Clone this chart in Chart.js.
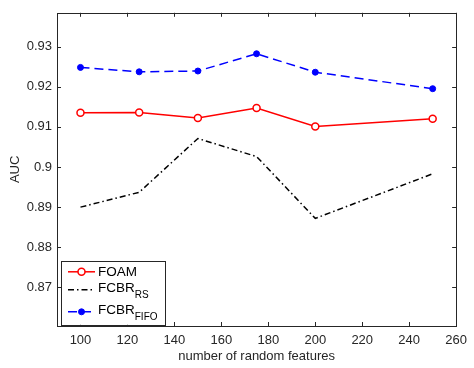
<!DOCTYPE html>
<html>
<head>
<meta charset="utf-8">
<script src="https://cdn.jsdelivr.net/npm/chart.js@4"></script>
<style>
  html, body { margin: 0; padding: 0; background: #fff; }
  #wrap { width: 474px; height: 368px; }
</style>
</head>
<body>
<div id="wrap"><canvas id="aucChart" width="474" height="368"></canvas></div>
<script>
const features = [100, 125, 150, 175, 200, 250];
const foam = [0.9135, 0.9136, 0.9122, 0.9147, 0.9101, 0.9120];
const fcbrRS = [0.8900, 0.8937, 0.9071, 0.9026, 0.8872, 0.8983];
const fcbrFIFO = [0.9248, 0.9237, 0.9239, 0.9282, 0.9236, 0.9195];
const xTicks = [100, 120, 140, 160, 180, 200, 220, 240, 260];
const yTicks = [0.87, 0.88, 0.89, 0.9, 0.91, 0.92, 0.93];

const axisColor = "#262626";
const fontFamily = "'Liberation Sans', Arial, sans-serif";

function points(ys) {
  return features.map((x, i) => ({ x: x, y: ys[i] }));
}

// MATLAB-style box with inward ticks on all four sides
const boxPlugin = {
  id: "box",
  afterDatasetsDraw(chart) {
    const { ctx, chartArea: a, scales } = chart;
    ctx.save();
    ctx.strokeStyle = axisColor;
    ctx.lineWidth = 1;
    ctx.beginPath();
    xTicks.forEach(v => {
      const px = Math.round(scales.x.getPixelForValue(v)) + 0.5;
      ctx.moveTo(px, a.bottom); ctx.lineTo(px, a.bottom - 4);
      ctx.moveTo(px, a.top); ctx.lineTo(px, a.top + 4);
    });
    yTicks.forEach(v => {
      const py = Math.round(scales.y.getPixelForValue(v)) + 0.5;
      ctx.moveTo(a.left, py); ctx.lineTo(a.left + 4, py);
      ctx.moveTo(a.right, py); ctx.lineTo(a.right - 4, py);
    });
    ctx.stroke();
    ctx.strokeRect(Math.round(a.left) + 0.5, Math.round(a.top) + 0.5,
      Math.round(a.right - a.left), Math.round(a.bottom - a.top));
    ctx.restore();
  }
};

// legend with subscripts
const legendPlugin = {
  id: "subLegend",
  afterDraw(chart) {
    const { ctx, chartArea: a } = chart;
    const bx = a.left + 4, by = a.top + 248, bw = 104, bh = 64;
    ctx.save();
    ctx.fillStyle = "#fff";
    ctx.fillRect(bx, by, bw, bh);
    ctx.strokeStyle = axisColor;
    ctx.lineWidth = 1;
    ctx.strokeRect(Math.round(bx) + 0.5, Math.round(by) + 0.5, bw, bh);
    const rows = [
      { ds: chart.data.datasets[0], main: "FOAM", sub: "", y: by + 11 },
      { ds: chart.data.datasets[1], main: "FCBR", sub: "RS", y: by + 29 },
      { ds: chart.data.datasets[2], main: "FCBR", sub: "FIFO", y: by + 51 }
    ];
    rows.forEach(r => {
      const x0 = bx + 7, x1 = bx + 34, xm = (x0 + x1) / 2;
      ctx.strokeStyle = r.ds.borderColor;
      ctx.lineWidth = r.ds.borderWidth;
      ctx.setLineDash(r.ds.borderDash || []);
      ctx.beginPath();
      ctx.moveTo(x0, r.y); ctx.lineTo(x1, r.y);
      ctx.stroke();
      ctx.setLineDash([]);
      if (r.ds.pointRadius > 0) {
        ctx.beginPath();
        ctx.arc(xm, r.y, r.ds.pointRadius, 0, Math.PI * 2);
        ctx.fillStyle = r.ds.pointBackgroundColor;
        ctx.fill();
        ctx.lineWidth = r.ds.pointBorderWidth;
        ctx.strokeStyle = r.ds.pointBorderColor;
        ctx.stroke();
      }
      ctx.fillStyle = "#000";
      ctx.textBaseline = "middle";
      ctx.textAlign = "left";
      ctx.font = "13.5px " + fontFamily;
      ctx.fillText(r.main, bx + 37, r.y - (r.sub ? 2 : 0));
      if (r.sub) {
        const w = ctx.measureText(r.main).width;
        ctx.font = "10px " + fontFamily;
        ctx.fillText(r.sub, bx + 37 + w, r.y + 5);
      }
    });
    ctx.restore();
  }
};

new Chart(document.getElementById("aucChart"), {
  type: "line",
  data: {
    datasets: [
      {
        label: "FOAM", data: points(foam),
        borderColor: "#ff0000", borderWidth: 1.5,
        pointRadius: 3.5, pointStyle: "circle",
        pointBackgroundColor: "#ffffff", pointBorderColor: "#ff0000", pointBorderWidth: 1.5
      },
      {
        label: "FCBR_RS", data: points(fcbrRS),
        borderColor: "#000000", borderWidth: 1.5, borderDash: [6, 3, 1.5, 3],
        pointRadius: 0
      },
      {
        label: "FCBR_FIFO", data: points(fcbrFIFO),
        borderColor: "#0000ff", borderWidth: 1.5, borderDash: [9, 5],
        pointRadius: 3, pointStyle: "circle",
        pointBackgroundColor: "#0000ff", pointBorderColor: "#0000ff", pointBorderWidth: 1
      }
    ]
  },
  options: {
    responsive: false,
    animation: false,
    layout: { padding: { left: 0, top: 6, right: 12, bottom: 0 } },
    plugins: { legend: { display: false }, tooltip: { enabled: false } },
    elements: { line: { tension: 0, fill: false } },
    scales: {
      x: {
        type: "linear", min: 90, max: 260,
        afterBuildTicks: s => { s.ticks = xTicks.map(v => ({ value: v })); },
        afterFit: s => { s.height = 42; },
        grid: { drawOnChartArea: false, drawTicks: false },
        border: { display: false },
        ticks: { color: axisColor, padding: 7, maxRotation: 0, autoSkip: false,
          font: { family: fontFamily, size: 13 } },
        title: { display: true, text: "number of random features", color: axisColor,
          padding: { top: 0, bottom: 4 }, font: { family: fontFamily, size: 13 } }
      },
      y: {
        type: "linear", min: 0.8604, max: 0.9384,
        afterBuildTicks: s => { s.ticks = yTicks.map(v => ({ value: v })); },
        afterFit: s => { s.width = 57; },
        grid: { drawOnChartArea: false, drawTicks: false },
        border: { display: false },
        ticks: { color: axisColor, padding: 5, autoSkip: false,
          font: { family: fontFamily, size: 13 },
          callback: v => String(Math.round(v * 100) / 100) },
        title: { display: true, text: "AUC", color: axisColor,
          padding: { top: 8, bottom: 0 }, font: { family: fontFamily, size: 13 } }
      }
    }
  },
  plugins: [boxPlugin, legendPlugin]
});
</script>
</body>
</html>
